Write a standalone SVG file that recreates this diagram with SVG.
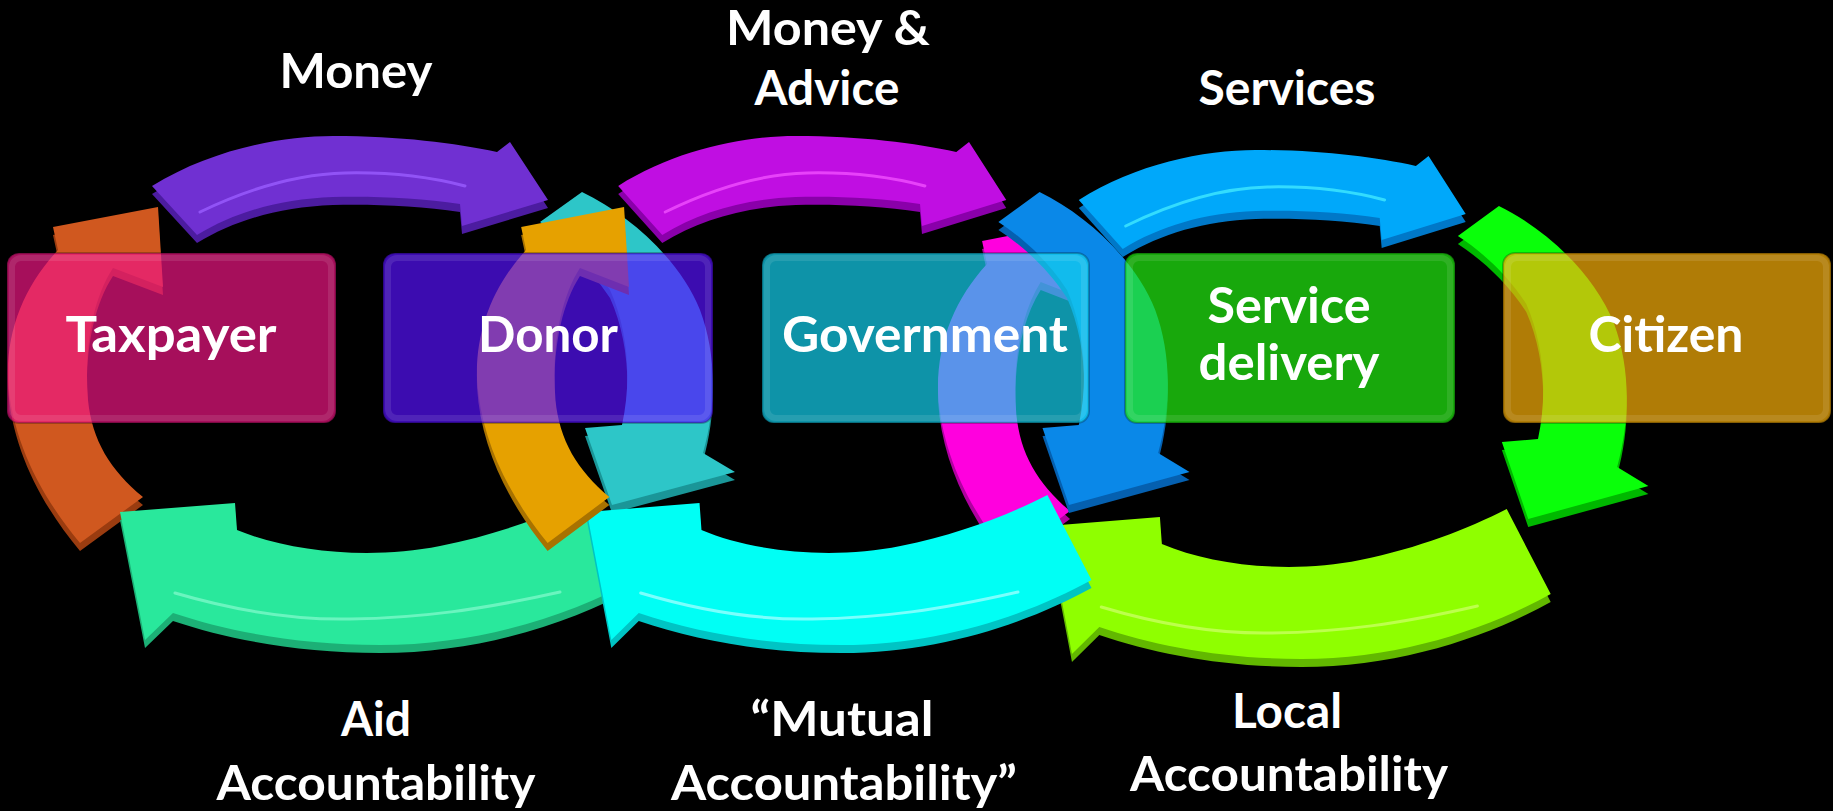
<svg xmlns="http://www.w3.org/2000/svg" xmlns:xlink="http://www.w3.org/1999/xlink" width="1833" height="811" viewBox="0 0 1833 811">
<style>
.box{fill-opacity:0.7;stroke:#000;stroke-opacity:0.25;stroke-width:2}
.bevel{fill:none;stroke:#fff;stroke-opacity:0.10;stroke-width:6}
.lbl{font-family:Lato,"Open Sans","Liberation Sans",sans-serif;font-weight:700;font-size:50px;fill:#fff;text-anchor:middle}
.cap{font-size:47.5px}
.hl{fill:none;stroke-width:3;stroke-linecap:round;stroke-opacity:0.8}
</style>
<defs>
<path id="aTop" d="M152,186 C210,150 280,136 333,136 C400,136 455,143 497,152 L510,142 L548,200 L462,226 L460,204 C420,198 375,196 333,197 C280,199 235,212 197,235 Z"/>
<path id="aLeft" d="M53,227 L158,207 L163,287 L113,268 C92,300 84,350 88,400 C92,440 110,470 143,497 L80,543 C40,495 12,440 8,380 C6,330 25,285 58,250 Z"/>
<path id="aBottom" d="M120,512 L235,503 L237,530 C290,552 370,560 440,546 C500,534 550,515 590,495 L635,580 C570,615 480,645 380,645 C300,645 230,632 173,613 L145,640 Z"/>
<path id="aRight" d="M582,192 C630,215 680,260 700,310 C715,350 718,400 703,453 L735,472 L612,505 L585,428 L622,425 C632,380 628,330 610,290 C590,260 565,238 540,222 Z"/>
<path id="hTop" d="M200,212 C250,188 300,174 345,173 C390,172 430,177 465,186"/>
<path id="hBottom" d="M175,593 C240,612 300,620 350,619 C420,618 480,610 560,592"/>
</defs>
<rect x="0" y="0" width="1833" height="811" fill="#000"/>
<g id="connectors">
  <g id="ring3" transform="translate(1283,14) scale(0.977,1) translate(-361,0)">
    <use xlink:href="#aLeft" fill="#B000A0" transform="translate(0,8)"/>
    <use xlink:href="#aLeft" fill="#FF00DE"/>
    <use xlink:href="#aBottom" fill="#62B800" transform="translate(0,8)"/>
    <use xlink:href="#aBottom" fill="#8FFF00"/>
    <use xlink:href="#hBottom" class="hl" stroke="#C8FF60"/>
    <use xlink:href="#aRight" fill="#00B800" transform="translate(0,8)"/>
    <use xlink:href="#aRight" fill="#0AFF0A"/>
  </g>
  <g id="ring1">
    <use xlink:href="#aLeft" fill="#9A3C10" transform="translate(0,8)"/>
    <use xlink:href="#aLeft" fill="#D0581F"/>
    <use xlink:href="#aBottom" fill="#1CB076" transform="translate(0,8)"/>
    <use xlink:href="#aBottom" fill="#29E89C"/>
    <use xlink:href="#hBottom" class="hl" stroke="#7AF8C8"/>
    <use xlink:href="#aRight" fill="#1A9698" transform="translate(0,8)"/>
    <use xlink:href="#aRight" fill="#2DC6C8"/>
    <use xlink:href="#aTop" fill="#4C1CA0" transform="translate(0,8)"/>
    <use xlink:href="#aTop" fill="#7030D2"/>
    <use xlink:href="#hTop" class="hl" stroke="#9A5CFF"/>
  </g>
  <g id="ring2" transform="translate(823,0) scale(0.98,1) translate(-361,0)">
    <use xlink:href="#aRight" fill="#0560B0" transform="translate(0,8)"/>
    <use xlink:href="#aRight" fill="#0A88E8"/>
    <use xlink:href="#aBottom" fill="#00C4C4" transform="translate(0,8)"/>
    <use xlink:href="#aBottom" fill="#00FFF5"/>
    <use xlink:href="#hBottom" class="hl" stroke="#9AFFFF"/>
    <use xlink:href="#aLeft" fill="#A87200" transform="translate(0,8)"/>
    <use xlink:href="#aLeft" fill="#E6A100"/>
    <use xlink:href="#aTop" fill="#8A00AA" transform="translate(0,8)"/>
    <use xlink:href="#aTop" fill="#C00EE2"/>
    <use xlink:href="#hTop" class="hl" stroke="#F050FF"/>
  </g>
  <g id="ring3top" transform="translate(1283,14) scale(0.977,1) translate(-361,0)">
    <use xlink:href="#aTop" fill="#0078C8" transform="translate(0,8)"/>
    <use xlink:href="#aTop" fill="#00A8FA"/>
    <use xlink:href="#hTop" class="hl" stroke="#40E8FF"/>
  </g>
</g>
<g id="taxpayer">
  <rect class="box" x="7" y="253" width="329" height="170" rx="12" fill="#EC1581"/>
  <rect class="bevel" x="12" y="258" width="319" height="160" rx="9"/>
  <text class="lbl" x="171" y="352" textLength="211" lengthAdjust="spacingAndGlyphs">Taxpayer</text>
</g>
<g id="donor">
  <rect class="box" x="383" y="253" width="330" height="170" rx="12" fill="#5611FB"/>
  <rect class="bevel" x="388" y="258" width="320" height="160" rx="9"/>
  <text class="lbl" x="548" y="352" textLength="140" lengthAdjust="spacingAndGlyphs">Donor</text>
</g>
<g id="government">
  <rect class="box" x="762" y="253" width="327" height="170" rx="12" fill="#14D1F0"/>
  <rect class="bevel" x="767" y="258" width="317" height="160" rx="9"/>
  <text class="lbl" x="925" y="352" textLength="286" lengthAdjust="spacingAndGlyphs">Government</text>
</g>
<g id="service-delivery">
  <rect class="box" x="1125" y="253" width="330" height="170" rx="12" fill="#22F011"/>
  <rect class="bevel" x="1130" y="258" width="320" height="160" rx="9"/>
  <text class="lbl" x="1289" y="323" textLength="163" lengthAdjust="spacingAndGlyphs">Service</text>
  <text class="lbl" x="1289" y="380" textLength="181" lengthAdjust="spacingAndGlyphs">delivery</text>
</g>
<g id="citizen">
  <rect class="box" x="1503" y="253" width="328" height="170" rx="12" fill="#FBB109"/>
  <rect class="bevel" x="1508" y="258" width="318" height="160" rx="9"/>
  <text class="lbl" x="1666" y="352" textLength="155" lengthAdjust="spacingAndGlyphs">Citizen</text>
</g>
<g id="labels">
  <text class="lbl cap" x="356" y="88" textLength="153" lengthAdjust="spacingAndGlyphs">Money</text>
  <text class="lbl cap" x="828" y="45" textLength="204" lengthAdjust="spacingAndGlyphs">Money &amp;</text>
  <text class="lbl cap" x="827" y="105" textLength="145" lengthAdjust="spacingAndGlyphs">Advice</text>
  <text class="lbl cap" x="1287" y="105" textLength="177" lengthAdjust="spacingAndGlyphs">Services</text>
  <text class="lbl cap" x="376" y="736" textLength="70" lengthAdjust="spacingAndGlyphs">Aid</text>
  <text class="lbl cap" x="376" y="800" textLength="319" lengthAdjust="spacingAndGlyphs">Accountability</text>
  <text class="lbl cap" x="842" y="736" textLength="183" lengthAdjust="spacingAndGlyphs">“Mutual</text>
  <text class="lbl cap" x="844" y="800" textLength="346" lengthAdjust="spacingAndGlyphs">Accountability”</text>
  <text class="lbl cap" x="1287" y="728" textLength="110" lengthAdjust="spacingAndGlyphs">Local</text>
  <text class="lbl cap" x="1289" y="791" textLength="318" lengthAdjust="spacingAndGlyphs">Accountability</text>
</g>
</svg>
